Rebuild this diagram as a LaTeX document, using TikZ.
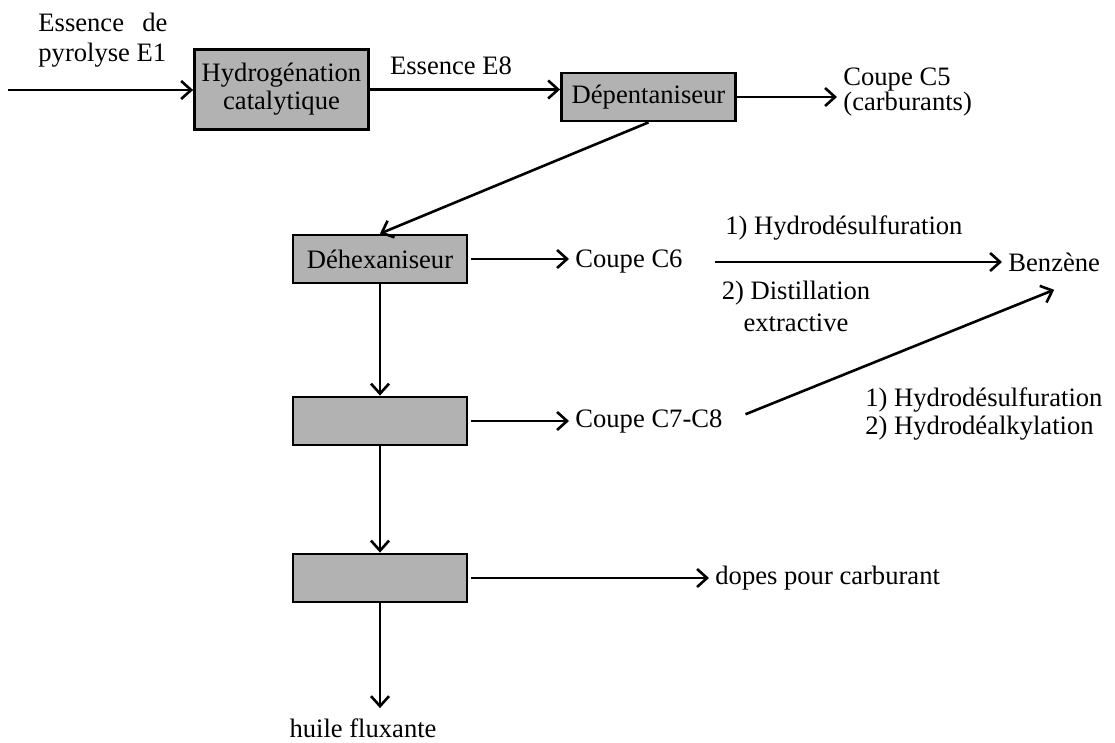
\documentclass[tikz,border=0pt]{standalone}
\usepackage{fontspec}
\setmainfont{Liberation Serif}
\usetikzlibrary{arrows.meta}
\begin{document}
\begin{tikzpicture}[x=0.5pt,y=-0.5pt,
  every node/.style={font=\fontsize{13.3}{15}\selectfont, inner sep=3pt},
  unit/.style={draw, line width=1.4pt, fill=black!30, inner sep=0pt, minimum width=87pt},
  arr/.style={line width=1.3pt, -{Straight Barb[length=5pt,width=9pt,line width=1.3pt]}},
  lbl/.style={anchor=west, align=left}]
\useasboundingbox (0,0) rectangle (1115,743);
% units
\node[unit, minimum height=40pt, align=center, font=\fontsize{13.3}{14}\selectfont] (hyd) at (281.5,89.5) {Hydrogénation\\catalytique};
\node[unit, minimum height=24pt] (dep) at (648.5,97) {Dépentaniseur};
\node[unit, minimum height=24pt] (dhx) at (380,259) {Déhexaniseur};
\node[unit, minimum height=24pt] (u4) at (380,421) {};
\node[unit, minimum height=24pt] (u5) at (380,578) {};
% texts
\coordinate (in) at (8,90);
\node[lbl, font=\fontsize{13.3}{15}\selectfont] (e1) at (32,40) {\makebox[4.85em][s]{Essence\hfill de}\\pyrolyse E1};
\node (e8) at (451,66) {Essence E8};
\node[lbl, font=\fontsize{13.3}{12.5}\selectfont] (c5) at (837,92) {Coupe C5\\(carburants)};
\node[lbl] (c6) at (569,262) {Coupe C6};
\node[lbl] (h1) at (719,228) {1) Hydrodésulfuration};
\node[align=center, font=\fontsize{13.3}{16}\selectfont] (d2) at (796,306) {2) Distillation\\extractive};
\node[lbl] (benz) at (1002,262) {Benzène};
\node[lbl] (c78) at (569,421) {Coupe C7-C8};
\node[lbl, font=\fontsize{13.3}{14}\selectfont] (h2) at (859,414) {1) Hydrodésulfuration\\2) Hydrodéalkylation};
\node[lbl] (dopes) at (709,578) {dopes pour carburant};
\node (huile) at (363,728) {huile fluxante};
% connectors
\draw[arr] (in) -- (in -| hyd.west);
\draw[arr] (hyd.east) -- (hyd.east -| dep.west);
\draw[arr] (dep.east) -- (dep.east -| c5.west);
\draw[arr] (dep.south) -- (dhx.north);
\draw[arr, shorten <=1.5pt] (dhx.east) -- (dhx.east -| c6.west);
\draw[arr, shorten <=13pt] (c6.east) -- (benz.west);
\draw[arr] (dhx.south) -- (u4.north);
\draw[arr, shorten <=1.5pt] (u4.east) -- (u4.east -| c78.west);
\draw[arr, shorten <=9pt] (c78.east) -- ([yshift=-6pt]benz.south);
\draw[arr] (u4.south) -- (u5.north);
\draw[arr, shorten <=1.5pt] (u5.east) -- (u5.east -| dopes.west);
\draw[arr] (u5.south) -- ([yshift=2pt]u5.south |- huile.north);
\end{tikzpicture}
\end{document}
